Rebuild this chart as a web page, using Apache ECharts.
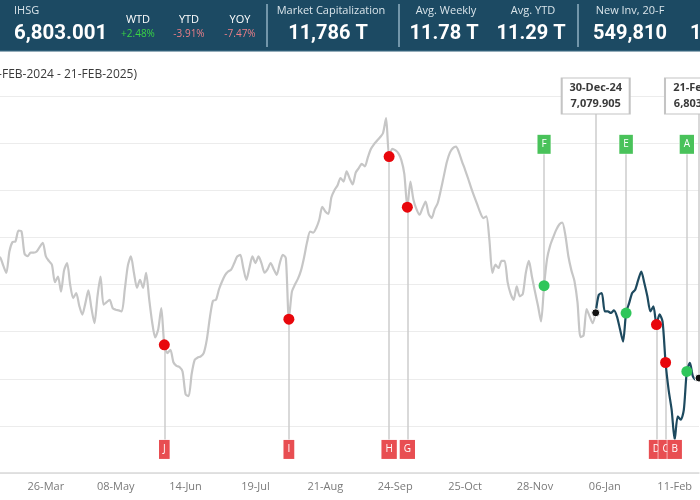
<!DOCTYPE html>
<html><head><meta charset="utf-8">
<script src="https://cdn.jsdelivr.net/npm/echarts@6/dist/echarts.min.js"></script>
<style>html,body{margin:0;padding:0;background:#fff}#c{width:700px;height:500px}</style>
</head><body><div id="c"></div>
<script>
// ---- trading calendar (IDX) ----
const startDate = '2024-02-21';
const endDate = '2025-02-21';
const holidays = ['2024-03-11','2024-03-12','2024-03-29','2024-04-08','2024-04-09','2024-04-10','2024-04-11','2024-04-12','2024-04-15',
  '2024-05-01','2024-05-09','2024-05-10','2024-05-23','2024-05-24','2024-06-17','2024-06-18','2024-09-16','2024-11-27',
  '2024-12-25','2024-12-26','2024-12-31','2025-01-01','2025-01-27','2025-01-28','2025-01-29'];

// ---- IHSG closes: 21-Feb-2024 .. 30-Dec-2024 ----
const close2024 = [
  7352, 7340, 7295, 7283, 7290, 7310, 7316, 7314, 7280, 7249,
  7340, 7380, 7383, 7429, 7425, 7330, 7320, 7335, 7335, 7340,
  7360, 7377, 7320, 7300, 7284, 7210, 7234, 7170, 7260, 7291,
  7200, 7142, 7164, 7110, 7072, 7120, 7175, 7100, 7036, 7150,
  7234, 7114, 7125, 7135, 7100, 7093, 7090, 7086, 7180, 7280,
  7319, 7250, 7186, 7220, 7186, 7250, 7140, 7040, 6975, 7010,
  7100, 6944, 6909, 6923, 6870, 6855, 6850, 6831, 6734, 6726,
  6820, 6880, 6890, 6895, 6910, 6967, 7060, 7131, 7135, 7180,
  7213, 7240, 7255, 7263, 7290, 7319, 7326, 7270, 7220, 7270,
  7319, 7291, 7319, 7290, 7250, 7265, 7291, 7265, 7241, 7290,
  7326, 7312, 7053, 7170, 7200, 7225, 7260, 7315, 7380, 7425,
  7420, 7440, 7475, 7530, 7510, 7500, 7570, 7600, 7620, 7652,
  7637, 7680, 7650, 7625, 7675, 7694, 7712, 7701, 7740, 7775,
  7795, 7810, 7825, 7843, 7906, 7743, 7776, 7770, 7758, 7729,
  7670, 7528, 7637, 7560, 7520, 7496, 7525, 7552, 7500, 7482,
  7520, 7546, 7600, 7660, 7720, 7760, 7779, 7785, 7760, 7722,
  7687, 7650, 7610, 7574, 7540, 7505, 7482, 7489, 7390, 7249,
  7284, 7270, 7300, 7300, 7210, 7160, 7135, 7192, 7150, 7160,
  7250, 7300, 7234, 7170, 7110, 7043, 7195, 7310, 7365, 7400,
  7432, 7455, 7463, 7410, 7320, 7260, 7215, 7125, 6977, 6984,
  7096, 7065, 7036, 7079.905
];
// ---- IHSG closes: 02-Jan-2025 .. 21-Feb-2025 ----
const close2025 = [
  7156, 7164, 7086, 7086, 7079, 7090, 7064, 7010, 6958, 7079,
  7121, 7164, 7178, 7220, 7255, 7206, 7150, 7086, 7107, 7030,
  7073, 7043, 6869, 6753, 6668, 6541, 6640, 6626, 6668, 6831,
  6867, 6810, 6795, 6803.001
];

// ---- signal events ----
const eventLetters = ['J','I','H','G','F','E','D','C','B','A'];
const eventDates = ['2024-06-05','2024-08-05','2024-09-20','2024-09-30','2024-12-03','2025-01-15','2025-02-03','2025-02-06','2025-02-11','2025-02-17'];
const eventSide = ['sell','sell','sell','sell','buy','buy','sell','sell','sell','buy'];
const eventDot = [true,true,true,true,true,true,true,true,false,true];
const calloutDates = ['2024-12-30','2025-02-21'];

// ---- header ----
const headerLabels = ['IHSG','WTD','YTD','YOY','Market Capitalization','Avg. Weekly','Avg. YTD','New Inv, 20-F'];
const headerValues = ['6,803.001','+2.48%','-3.91%','-7.47%','11,786 T','11.78 T','11.29 T','549,810','1'];
const subtitle = '(21-FEB-2024 - 21-FEB-2025)';

// ---- axis ----
const yMin = 6400, yMax = 8200, yStep = 200;
const labelEvery = 23, labelOffset = 22;
const sellBoxValue = 6500, buyBoxValue = 7795, calloutValue = 8000;

function buildTradingDays(s, e, hol) {
  const out = [];
  const d = new Date(s + 'T00:00:00Z'), end = new Date(e + 'T00:00:00Z');
  while (d <= end) {
    const wd = d.getUTCDay(), str = d.toISOString().slice(0, 10);
    if (wd !== 0 && wd !== 6 && hol.indexOf(str) < 0) out.push(str);
    d.setUTCDate(d.getUTCDate() + 1);
  }
  return out;
}
const categories = buildTradingDays(startDate, endDate, holidays);
const allClose = close2024.concat(close2025);
const splitIdx = close2024.length - 1;
const grayData = close2024.slice();
const darkData = allClose.map((v, i) => i >= splitIdx ? v : null);

const MONTHS = ['Jan','Feb','Mar','Apr','May','Jun','Jul','Aug','Sep','Oct','Nov','Dec'];
function fmtDM(s) { return s.slice(8, 10) + '-' + MONTHS[+s.slice(5, 7) - 1]; }

const RED = '#e8070c', GREEN = '#2fc65a', REDBOX = '#e84e52', GREENBOX = '#49c25a';
const redDots = [], greenDots = [], connectors = [], boxes = [];
eventLetters.forEach((L, k) => {
  const i = categories.indexOf(eventDates[k]);
  const v = allClose[i];
  const sell = eventSide[k] === 'sell';
  if (eventDot[k]) (sell ? redDots : greenDots).push([i, v]);
  const bv = sell ? sellBoxValue : buyBoxValue;
  connectors.push([{ coord: [i, v] }, { coord: [i, bv] }]);
  boxes.push({
    coord: [i, bv], symbol: 'rect', symbolSize: [2, 2], itemStyle: { color: 'rgba(0,0,0,0)' },
    label: { show: true, position: 'inside', formatter: L, color: '#fff', fontSize: 10,
      fontFamily: 'Open Sans', backgroundColor: sell ? REDBOX : GREENBOX,
      padding: [4, 4, 3, 4], lineHeight: 12, borderColor: 'rgba(255,255,255,0.7)', borderWidth: 0.8 }
  });
});
const blackDots = [];
calloutDates.forEach(d => {
  const i = categories.indexOf(d);
  const v = allClose[i];
  blackDots.push([i, v]);
  connectors.push([{ coord: [i, v] }, { coord: [i, calloutValue] }]);
  const txt = fmtDM(d) + '-' + d.slice(2, 4) + '\n' +
    v.toLocaleString('en-US', { minimumFractionDigits: 3, maximumFractionDigits: 3 });
  boxes.push({
    coord: [i, calloutValue], symbol: 'rect', symbolSize: [68, 36],
    itemStyle: { color: '#fff', borderColor: '#c4c4c4', borderWidth: 1.5 },
    label: { show: true, position: 'inside', formatter: txt, color: '#3a3a3a', fontSize: 11,
      fontWeight: 'bold', fontFamily: 'Open Sans', lineHeight: 16 }
  });
});

const hdrTextColor = '#d9e4ea';
const graphics = [
  { type: 'rect', left: 0, top: 0, shape: { width: 700, height: 51 }, style: { fill: '#1c4a63' }, z: 100 },
  { type: 'rect', left: 0, top: 50, shape: { width: 700, height: 1.5 }, style: { fill: '#2d5d76' }, z: 100 },
  { type: 'line', shape: { x1: 267, y1: 4, x2: 267, y2: 47 }, style: { stroke: '#8fb0c2', lineWidth: 1.5 }, z: 101 },
  { type: 'line', shape: { x1: 399, y1: 4, x2: 399, y2: 47 }, style: { stroke: '#8fb0c2', lineWidth: 1.5 }, z: 101 },
  { type: 'line', shape: { x1: 578, y1: 4, x2: 578, y2: 47 }, style: { stroke: '#8fb0c2', lineWidth: 1.5 }, z: 101 },
  { type: 'text', x: 14, y: 11, style: { text: headerLabels[0], fill: hdrTextColor, font: '11px "Open Sans"', textVerticalAlign: 'middle' }, z: 101 },
  { type: 'text', x: 14, y: 34, style: { text: headerValues[0], fill: '#fff', font: 'bold 20.5px Roboto', textVerticalAlign: 'middle' }, z: 101 },
  { type: 'text', x: 138, y: 20, style: { text: headerLabels[1], fill: '#fff', font: '11px "Open Sans"', textAlign: 'center', textVerticalAlign: 'middle' }, z: 101 },
  { type: 'text', x: 138, y: 34, style: { text: headerValues[1], fill: '#39d444', font: '10px "Open Sans"', textAlign: 'center', textVerticalAlign: 'middle' }, z: 101 },
  { type: 'text', x: 189, y: 20, style: { text: headerLabels[2], fill: '#fff', font: '11px "Open Sans"', textAlign: 'center', textVerticalAlign: 'middle' }, z: 101 },
  { type: 'text', x: 189, y: 34, style: { text: headerValues[2], fill: '#ec7f88', font: '10px "Open Sans"', textAlign: 'center', textVerticalAlign: 'middle' }, z: 101 },
  { type: 'text', x: 240, y: 20, style: { text: headerLabels[3], fill: '#fff', font: '11px "Open Sans"', textAlign: 'center', textVerticalAlign: 'middle' }, z: 101 },
  { type: 'text', x: 240, y: 34, style: { text: headerValues[3], fill: '#ec7f88', font: '10px "Open Sans"', textAlign: 'center', textVerticalAlign: 'middle' }, z: 101 },
  { type: 'text', x: 331, y: 11, style: { text: headerLabels[4], fill: hdrTextColor, font: '11px "Open Sans"', textAlign: 'center', textVerticalAlign: 'middle' }, z: 101 },
  { type: 'text', x: 328, y: 34, style: { text: headerValues[4], fill: '#fff', font: 'bold 20px Roboto', textAlign: 'center', textVerticalAlign: 'middle' }, z: 101 },
  { type: 'text', x: 446, y: 11, style: { text: headerLabels[5], fill: hdrTextColor, font: '11px "Open Sans"', textAlign: 'center', textVerticalAlign: 'middle' }, z: 101 },
  { type: 'text', x: 444, y: 34, style: { text: headerValues[5], fill: '#fff', font: 'bold 20px Roboto', textAlign: 'center', textVerticalAlign: 'middle' }, z: 101 },
  { type: 'text', x: 533, y: 11, style: { text: headerLabels[6], fill: hdrTextColor, font: '11px "Open Sans"', textAlign: 'center', textVerticalAlign: 'middle' }, z: 101 },
  { type: 'text', x: 531, y: 34, style: { text: headerValues[6], fill: '#fff', font: 'bold 20px Roboto', textAlign: 'center', textVerticalAlign: 'middle' }, z: 101 },
  { type: 'text', x: 630, y: 11, style: { text: headerLabels[7], fill: hdrTextColor, font: '11px "Open Sans"', textAlign: 'center', textVerticalAlign: 'middle' }, z: 101 },
  { type: 'text', x: 630, y: 34, style: { text: headerValues[7], fill: '#fff', font: 'bold 20px Roboto', textAlign: 'center', textVerticalAlign: 'middle' }, z: 101 },
  { type: 'text', x: 690, y: 34, style: { text: headerValues[8], fill: '#fff', font: 'bold 20px Roboto', textVerticalAlign: 'middle' }, z: 101 },
  { type: 'text', x: 137, y: 75, style: { text: subtitle, fill: '#3a3a3a', font: '12px "Open Sans"', textAlign: 'right', textVerticalAlign: 'middle' }, z: 50 }
];

const chart = echarts.init(document.getElementById('c'), null, { renderer: 'canvas' });
chart.setOption({
  animation: false,
  backgroundColor: '#fff',
  grid: { left: -21, right: 1, top: 48.9, bottom: 27, containLabel: false, outerBoundsMode: 'none' },
  xAxis: {
    type: 'category', data: categories, boundaryGap: false,
    axisLine: { lineStyle: { color: '#d9d9d9', width: 1.5 } },
    axisTick: { show: false },
    splitLine: { show: false },
    axisLabel: {
      interval: (idx) => idx % labelEvery === labelOffset,
      formatter: (v) => fmtDM(v),
      color: '#7a7a7a', fontSize: 11, fontFamily: 'Open Sans', margin: 8
    }
  },
  yAxis: {
    type: 'value', min: yMin, max: yMax, interval: yStep,
    axisLabel: { show: false }, axisLine: { show: false }, axisTick: { show: false },
    splitLine: { lineStyle: { color: '#ececec', width: 1 } }
  },
  graphic: graphics,
  series: [
    {
      name: 'IHSG 2024', type: 'line', data: grayData, showSymbol: false, smooth: 0.25, z: 2,
      lineStyle: { color: '#c6c6c6', width: 2.2 },
      markLine: {
        z: 1, silent: true, symbol: ['none', 'none'], label: { show: false },
        lineStyle: { color: '#cdcdcd', width: 1.5, type: 'solid' }, data: connectors
      }
    },
    {
      name: 'IHSG YTD', type: 'line', data: darkData, showSymbol: false, smooth: 0.25, z: 3,
      lineStyle: { color: '#1e4a5f', width: 2.2 }
    },
    { name: 'sell', type: 'scatter', data: redDots, symbolSize: 11, z: 6, itemStyle: { color: RED, opacity: 1 } },
    { name: 'buy', type: 'scatter', data: greenDots, symbolSize: 11, z: 6, itemStyle: { color: GREEN, opacity: 1 } },
    {
      name: 'mark', type: 'scatter', data: blackDots, symbolSize: 8, z: 7,
      itemStyle: { color: '#111', borderColor: '#fff', borderWidth: 1, opacity: 1 },
      markPoint: { z: 8, silent: true, data: boxes }
    }
  ]
});
</script>
</body></html>
